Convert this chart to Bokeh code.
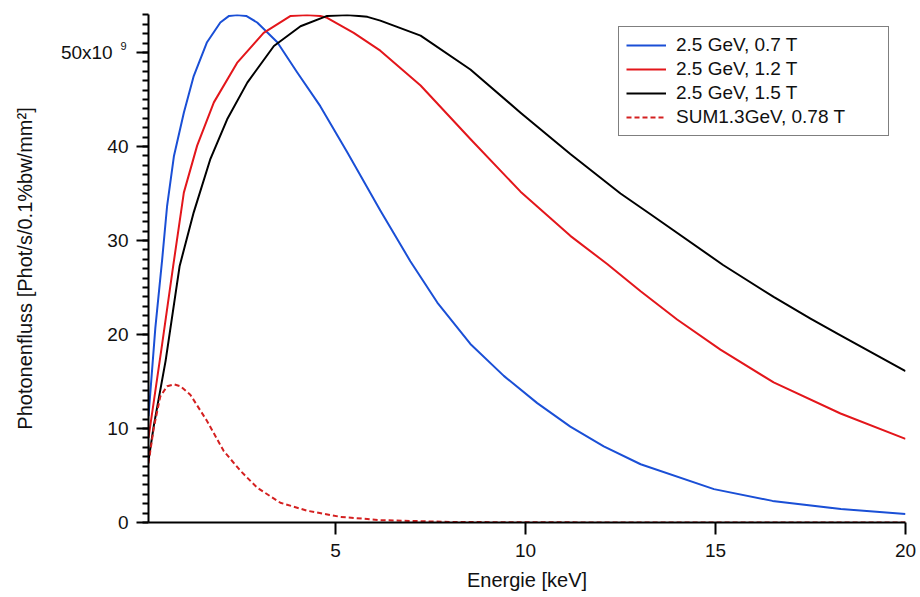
from bokeh.plotting import figure
from bokeh.models import (Range1d, FixedTicker, SingleIntervalTicker, CustomJSTickFormatter,
                          Legend, LegendItem, Label)
from bokeh.embed import file_html
from bokeh.resources import INLINE

# ---- data, flux in units of 1e9 ----
energy_blue = [0.08, 0.26, 0.44, 0.57, 0.75, 1.01, 1.27, 1.62, 1.97, 2.2, 2.41, 2.65, 2.94, 3.47,
               3.99, 4.6, 5.31, 6.18, 6.97, 7.68, 8.55, 9.43, 10.31, 11.18, 12.06, 13.03, 14.96,
               16.5, 18.3, 20.0]
flux_blue = [11.3, 20.7, 28.0, 33.7, 39.0, 43.6, 47.5, 51.1, 53.2, 53.9, 54.0, 53.9, 53.2, 51.1,
             47.9, 44.3, 39.4, 33.2, 27.8, 23.4, 19.0, 15.6, 12.7, 10.2, 8.1, 6.2, 3.55,
             2.3, 1.43, 0.9]

energy_red = [0.08, 0.44, 0.73, 1.01, 1.36, 1.8, 2.41, 3.11, 3.82, 4.25, 4.6, 4.78, 5.48,
              6.18, 7.24, 8.55, 9.87, 11.18, 12.15, 13.03, 13.99, 15.13, 16.53, 18.29, 20.0]
flux_red = [9.0, 19.0, 27.3, 35.1, 40.1, 44.7, 48.9, 52.1, 53.9, 54.0, 53.9, 53.7, 52.1,
            50.2, 46.5, 40.8, 35.2, 30.5, 27.5, 24.6, 21.6, 18.4, 14.9, 11.6, 8.9]

energy_black = [0.08, 0.22, 0.53, 0.9, 1.27, 1.71, 2.15, 2.68, 3.38, 4.08, 4.78, 5.31, 5.84, 6.18,
                7.24, 8.55, 9.87, 11.18, 12.5, 13.29, 15.2, 16.53, 17.5, 18.29, 20.0]
flux_black = [6.6, 10.3, 17.2, 27.3, 33.0, 38.7, 42.9, 46.8, 50.7, 52.8, 53.9, 54.0, 53.8, 53.4,
              51.8, 48.2, 43.6, 39.2, 35.0, 32.8, 27.4, 24.0, 21.7, 19.9, 16.1]

energy_sum = [0.08, 0.22, 0.39, 0.57, 0.75, 0.92, 1.18, 1.62, 2.06, 2.5, 2.94, 3.55, 4.26, 5.13,
              6.18, 8.0, 10.0, 14.0, 20.0]
flux_sum = [6.3, 10.1, 13.4, 14.5, 14.7, 14.5, 13.6, 10.8, 7.6, 5.5, 3.7, 2.1, 1.25, 0.6,
            0.25, 0.06, 0.02, 0.0, 0.0]

series_labels = ["2.5 GeV, 0.7 T", "2.5 GeV, 1.2 T", "2.5 GeV, 1.5 T", "SUM1.3GeV, 0.78 T"]
x_ticks = [5, 10, 15, 20]

FONT = "Liberation Sans"

p = figure(width=920, height=597, x_range=Range1d(0.08, 20.0), y_range=Range1d(0, 54.05),
           output_backend="svg", toolbar_location=None,
           min_border_left=148, min_border_right=15, min_border_top=14, min_border_bottom=75)
p.outline_line_color = None
p.grid.visible = False
p.background_fill_color = "white"
p.border_fill_color = "white"

r_blue = p.line(energy_blue, flux_blue, line_color="#1a4fd6", line_width=2, line_join="round")
r_red = p.line(energy_red, flux_red, line_color="#e3161b", line_width=2, line_join="round")
r_black = p.line(energy_black, flux_black, line_color="black", line_width=2, line_join="round")
r_sum = p.line(energy_sum, flux_sum, line_color="#d42020", line_width=2, line_dash="5 3",
               line_join="round")

# axes
xa = p.xaxis[0]
ya = p.yaxis[0]
xa.ticker = FixedTicker(ticks=x_ticks, minor_ticks=[])
ya.ticker = SingleIntervalTicker(interval=10, num_minor_ticks=10)
ya.formatter = CustomJSTickFormatter(
    code="return tick == 50 ? '50x10\\u00a0\\u00a0\\u00a0' : tick.toFixed(0);")

for ax in (xa, ya):
    ax.axis_line_width = 2
    ax.axis_line_color = "black"
    ax.major_tick_line_width = 2
    ax.minor_tick_line_width = 2
    ax.major_tick_in = 0
    ax.major_tick_out = 12
    ax.minor_tick_in = 0
    ax.minor_tick_out = 6
    ax.major_label_text_font = FONT
    ax.major_label_text_font_size = "19px"
    ax.major_label_text_color = "#111111"
    ax.axis_label_text_font = FONT
    ax.axis_label_text_font_size = "20px"
    ax.axis_label_text_font_style = "normal"
    ax.axis_label_text_color = "#111111"

xa.axis_label = "Energie [keV]"
xa.major_label_standoff = 9
xa.axis_label_standoff = 9
ya.axis_label = "Photonenfluss [Phot/s/0.1%bw/mm\u00b2]"
ya.major_label_standoff = 8
ya.axis_label_standoff = 22

# superscript exponent of the top tick label (placed in the side panel so it is not clipped)
p.add_layout(Label(x=0.08, y=50, x_units="data", y_units="data", text="9",
                   x_offset=-28, y_offset=7, text_font=FONT, text_font_size="11px",
                   text_baseline="alphabetic", text_align="left", text_color="#111111"), "left")

legend = Legend(items=[LegendItem(label=series_labels[0], renderers=[r_blue]),
                       LegendItem(label=series_labels[1], renderers=[r_red]),
                       LegendItem(label=series_labels[2], renderers=[r_black]),
                       LegendItem(label=series_labels[3], renderers=[r_sum])],
                location=(470, 386), margin=0, padding=7, spacing=2,
                glyph_width=40, glyph_height=20, label_height=20, label_width=205,
                label_standoff=10, label_text_font=FONT, label_text_font_size="19px",
                label_text_color="#111111",
                border_line_color="black", border_line_width=1.5,
                background_fill_color="white", background_fill_alpha=1.0)
p.add_layout(legend, "center")

open("out.html", "w", encoding="utf-8").write(file_html(p, INLINE))
